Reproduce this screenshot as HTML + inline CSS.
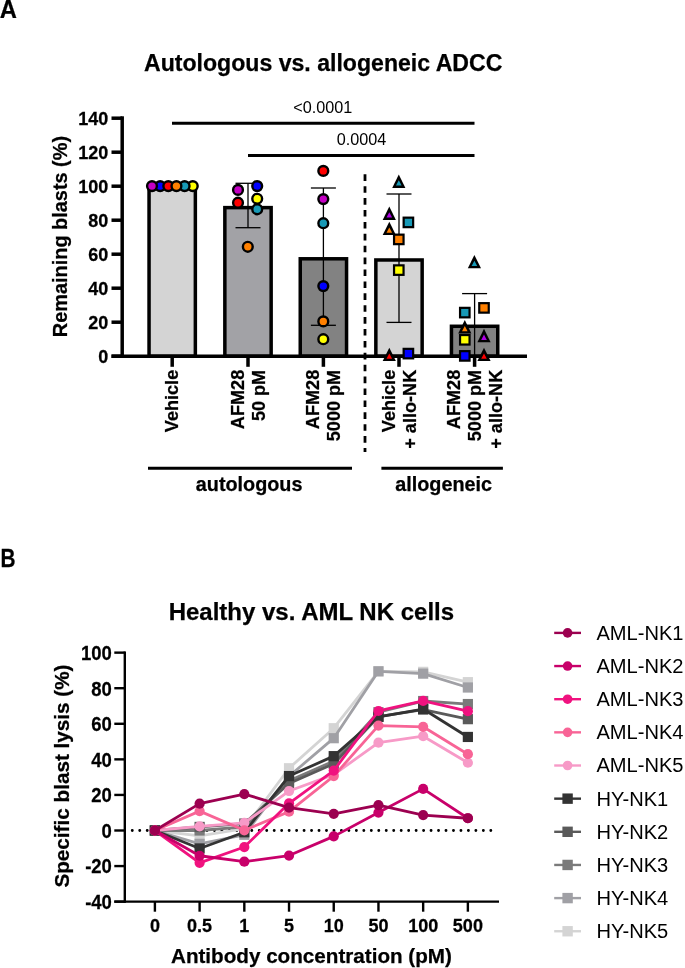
<!DOCTYPE html>
<html><head><meta charset="utf-8"><title>ADCC figure</title>
<style>
html,body{margin:0;padding:0;background:#fff;}
body{width:685px;height:968px;overflow:hidden;}
svg{display:block;font-family:"Liberation Sans", sans-serif;will-change:transform;}
text[font-weight=bold]{stroke:#000;stroke-width:0.25px;}
</style></head>
<body>
<svg width="685" height="968" viewBox="0 0 685 968" fill="#000">
<rect x="0" y="0" width="685" height="968" fill="#fff"/>
<text transform="translate(-0.3,17.6) scale(0.93,1)" font-size="25.5" font-weight="bold">A</text>
<text x="323.2" y="70.6" font-size="23.1" font-weight="bold" text-anchor="middle">Autologous vs. allogeneic ADCC</text>
<line x1="172" y1="123.3" x2="474.5" y2="123.3" stroke="#000" stroke-width="3"/>
<line x1="248" y1="155.5" x2="474.5" y2="155.5" stroke="#000" stroke-width="3"/>
<text x="322.8" y="113" font-size="16.2" text-anchor="middle">&lt;0.0001</text>
<text x="361.6" y="145.2" font-size="16.2" text-anchor="middle">0.0004</text>
<rect x="149.05" y="186.20" width="46.30" height="170.00" fill="#d4d4d4" stroke="#000" stroke-width="3.5"/>
<rect x="224.85" y="207.62" width="46.30" height="148.58" fill="#a2a2a6" stroke="#000" stroke-width="3.5"/>
<rect x="300.25" y="258.79" width="46.30" height="97.41" fill="#828282" stroke="#000" stroke-width="3.5"/>
<rect x="375.85" y="259.98" width="46.30" height="96.22" fill="#d4d4d4" stroke="#000" stroke-width="3.5"/>
<rect x="451.45" y="326.28" width="46.30" height="29.92" fill="#828282" stroke="#000" stroke-width="3.5"/>
<line x1="248.0" y1="183.3" x2="248.0" y2="227.7" stroke="#000" stroke-width="1.3"/>
<line x1="235.5" y1="183.3" x2="260.5" y2="183.3" stroke="#000" stroke-width="1.3"/>
<line x1="235.5" y1="227.7" x2="260.5" y2="227.7" stroke="#000" stroke-width="1.3"/>
<line x1="323.4" y1="188.0" x2="323.4" y2="325.3" stroke="#000" stroke-width="1.3"/>
<line x1="310.9" y1="188.0" x2="335.9" y2="188.0" stroke="#000" stroke-width="1.3"/>
<line x1="310.9" y1="325.3" x2="335.9" y2="325.3" stroke="#000" stroke-width="1.3"/>
<line x1="399.0" y1="194.0" x2="399.0" y2="322.4" stroke="#000" stroke-width="1.3"/>
<line x1="386.5" y1="194.0" x2="411.5" y2="194.0" stroke="#000" stroke-width="1.3"/>
<line x1="386.5" y1="322.4" x2="411.5" y2="322.4" stroke="#000" stroke-width="1.3"/>
<line x1="474.6" y1="293.6" x2="474.6" y2="356.2" stroke="#000" stroke-width="1.3"/>
<line x1="462.1" y1="293.6" x2="487.1" y2="293.6" stroke="#000" stroke-width="1.3"/>
<line x1="122.2" y1="116.3" x2="122.2" y2="357.95" stroke="#000" stroke-width="3.5"/>
<line x1="111.5" y1="356.2" x2="527" y2="356.2" stroke="#000" stroke-width="3.5"/>
<line x1="111.5" y1="356.20" x2="122.2" y2="356.20" stroke="#000" stroke-width="3.5"/>
<text transform="translate(108.3,363.20) scale(1,1.05)" font-size="18" font-weight="bold" text-anchor="end">0</text>
<line x1="111.5" y1="322.20" x2="122.2" y2="322.20" stroke="#000" stroke-width="3.5"/>
<text transform="translate(108.3,329.20) scale(1,1.05)" font-size="18" font-weight="bold" text-anchor="end">20</text>
<line x1="111.5" y1="288.20" x2="122.2" y2="288.20" stroke="#000" stroke-width="3.5"/>
<text transform="translate(108.3,295.20) scale(1,1.05)" font-size="18" font-weight="bold" text-anchor="end">40</text>
<line x1="111.5" y1="254.20" x2="122.2" y2="254.20" stroke="#000" stroke-width="3.5"/>
<text transform="translate(108.3,261.20) scale(1,1.05)" font-size="18" font-weight="bold" text-anchor="end">60</text>
<line x1="111.5" y1="220.20" x2="122.2" y2="220.20" stroke="#000" stroke-width="3.5"/>
<text transform="translate(108.3,227.20) scale(1,1.05)" font-size="18" font-weight="bold" text-anchor="end">80</text>
<line x1="111.5" y1="186.20" x2="122.2" y2="186.20" stroke="#000" stroke-width="3.5"/>
<text transform="translate(108.3,193.20) scale(1,1.05)" font-size="18" font-weight="bold" text-anchor="end">100</text>
<line x1="111.5" y1="152.20" x2="122.2" y2="152.20" stroke="#000" stroke-width="3.5"/>
<text transform="translate(108.3,159.20) scale(1,1.05)" font-size="18" font-weight="bold" text-anchor="end">120</text>
<line x1="111.5" y1="118.20" x2="122.2" y2="118.20" stroke="#000" stroke-width="3.5"/>
<text transform="translate(108.3,125.20) scale(1,1.05)" font-size="18" font-weight="bold" text-anchor="end">140</text>
<line x1="172.2" y1="356.2" x2="172.2" y2="366.8" stroke="#000" stroke-width="3.5"/>
<line x1="248.0" y1="356.2" x2="248.0" y2="366.8" stroke="#000" stroke-width="3.5"/>
<line x1="323.4" y1="356.2" x2="323.4" y2="366.8" stroke="#000" stroke-width="3.5"/>
<line x1="399.0" y1="356.2" x2="399.0" y2="366.8" stroke="#000" stroke-width="3.5"/>
<line x1="474.6" y1="356.2" x2="474.6" y2="366.8" stroke="#000" stroke-width="3.5"/>
<line x1="365" y1="174.3" x2="365" y2="452" stroke="#000" stroke-width="2.8" stroke-dasharray="6.6 5.3"/>
<text transform="translate(66.9,236.55) rotate(-90)" font-size="19.9" font-weight="bold" text-anchor="middle">Remaining blasts (%)</text>
<text transform="translate(178.40,369.8) rotate(-90)" font-size="18.1" font-weight="bold" text-anchor="end">Vehicle</text>
<text transform="translate(244.00,369.8) rotate(-90)" font-size="18.1" font-weight="bold" text-anchor="end">AFM28</text>
<text transform="translate(264.90,369.8) rotate(-90)" font-size="18.1" font-weight="bold" text-anchor="end">50 pM</text>
<text transform="translate(319.10,369.8) rotate(-90)" font-size="18.1" font-weight="bold" text-anchor="end">AFM28</text>
<text transform="translate(339.70,369.8) rotate(-90)" font-size="18.1" font-weight="bold" text-anchor="end">5000 pM</text>
<text transform="translate(394.90,369.8) rotate(-90)" font-size="18.1" font-weight="bold" text-anchor="end">Vehicle</text>
<text transform="translate(415.80,369.8) rotate(-90)" font-size="18.1" font-weight="bold" text-anchor="end">+ allo-NK</text>
<text transform="translate(460.20,369.8) rotate(-90)" font-size="18.1" font-weight="bold" text-anchor="end">AFM28</text>
<text transform="translate(481.20,369.8) rotate(-90)" font-size="18.1" font-weight="bold" text-anchor="end">5000 pM</text>
<text transform="translate(502.30,369.8) rotate(-90)" font-size="18.1" font-weight="bold" text-anchor="end">+ allo-NK</text>
<line x1="148" y1="468.3" x2="352" y2="468.3" stroke="#000" stroke-width="2.9"/>
<line x1="381.4" y1="468.2" x2="502.9" y2="468.2" stroke="#000" stroke-width="2.9"/>
<text x="249.1" y="490.9" font-size="19.8" font-weight="bold" text-anchor="middle">autologous</text>
<text x="443.6" y="490.9" font-size="19.8" font-weight="bold" text-anchor="middle">allogeneic</text>
<circle cx="160.15" cy="186.10" r="4.9" fill="#0000ff" stroke="#000" stroke-width="2.4"/>
<circle cx="192.75" cy="186.10" r="4.9" fill="#ffff00" stroke="#000" stroke-width="2.4"/>
<circle cx="184.60" cy="186.10" r="4.9" fill="#1799b6" stroke="#000" stroke-width="2.4"/>
<circle cx="168.30" cy="186.10" r="4.9" fill="#ff0000" stroke="#000" stroke-width="2.4"/>
<circle cx="176.45" cy="186.10" r="4.9" fill="#ff8000" stroke="#000" stroke-width="2.4"/>
<circle cx="152.00" cy="186.10" r="4.9" fill="#c400c4" stroke="#000" stroke-width="2.4"/>
<circle cx="238.00" cy="189.90" r="4.9" fill="#c400c4" stroke="#000" stroke-width="2.4"/>
<circle cx="238.00" cy="202.70" r="4.9" fill="#ff0000" stroke="#000" stroke-width="2.4"/>
<circle cx="257.20" cy="186.10" r="4.9" fill="#0000ff" stroke="#000" stroke-width="2.4"/>
<circle cx="257.20" cy="198.80" r="4.9" fill="#ffff00" stroke="#000" stroke-width="2.4"/>
<circle cx="257.20" cy="209.30" r="4.9" fill="#1799b6" stroke="#000" stroke-width="2.4"/>
<circle cx="247.80" cy="246.80" r="4.9" fill="#ff8000" stroke="#000" stroke-width="2.4"/>
<circle cx="323.30" cy="170.90" r="4.9" fill="#ff0000" stroke="#000" stroke-width="2.4"/>
<circle cx="323.30" cy="199.10" r="4.9" fill="#c400c4" stroke="#000" stroke-width="2.4"/>
<circle cx="323.30" cy="223.20" r="4.9" fill="#1799b6" stroke="#000" stroke-width="2.4"/>
<circle cx="323.30" cy="286.10" r="4.9" fill="#0000ff" stroke="#000" stroke-width="2.4"/>
<circle cx="323.30" cy="321.40" r="4.9" fill="#ff8000" stroke="#000" stroke-width="2.4"/>
<circle cx="323.30" cy="339.20" r="4.9" fill="#ffff00" stroke="#000" stroke-width="2.4"/>
<polygon points="398.80,174.50 392.20,187.90 405.40,187.90" fill="#000"/>
<polygon points="398.80,180.30 396.00,185.60 401.60,185.60" fill="#1799b6"/>
<polygon points="389.30,206.50 382.70,219.90 395.90,219.90" fill="#000"/>
<polygon points="389.30,212.30 386.50,217.60 392.10,217.60" fill="#b000e6"/>
<polygon points="389.30,221.70 382.70,235.10 395.90,235.10" fill="#000"/>
<polygon points="389.30,227.50 386.50,232.80 392.10,232.80" fill="#ff8000"/>
<rect x="403.65" y="217.65" width="9.5" height="9.5" fill="#1799b6" stroke="#000" stroke-width="2.2"/>
<rect x="394.05" y="234.65" width="9.5" height="9.5" fill="#ff8000" stroke="#000" stroke-width="2.2"/>
<rect x="394.05" y="265.35" width="9.5" height="9.5" fill="#ffff00" stroke="#000" stroke-width="2.2"/>
<polygon points="389.30,347.70 382.70,361.10 395.90,361.10" fill="#000"/>
<polygon points="389.30,353.50 386.50,358.80 392.10,358.80" fill="#ff0000"/>
<rect x="403.65" y="348.85" width="9.5" height="9.5" fill="#0000ff" stroke="#000" stroke-width="2.2"/>
<polygon points="474.40,254.90 467.80,268.30 481.00,268.30" fill="#000"/>
<polygon points="474.40,260.70 471.60,266.00 477.20,266.00" fill="#1799b6"/>
<rect x="479.25" y="303.15" width="9.5" height="9.5" fill="#ff8000" stroke="#000" stroke-width="2.2"/>
<rect x="460.05" y="307.85" width="9.5" height="9.5" fill="#1799b6" stroke="#000" stroke-width="2.2"/>
<polygon points="464.80,320.10 458.20,333.50 471.40,333.50" fill="#000"/>
<polygon points="464.80,325.90 462.00,331.20 467.60,331.20" fill="#ff8000"/>
<polygon points="484.00,328.80 477.40,342.20 490.60,342.20" fill="#000"/>
<polygon points="484.00,334.60 481.20,339.90 486.80,339.90" fill="#b000e6"/>
<rect x="460.05" y="335.05" width="9.5" height="9.5" fill="#ffff00" stroke="#000" stroke-width="2.2"/>
<rect x="460.05" y="351.15" width="9.5" height="9.5" fill="#0000ff" stroke="#000" stroke-width="2.2"/>
<polygon points="484.00,347.70 477.40,361.10 490.60,361.10" fill="#000"/>
<polygon points="484.00,353.50 481.20,358.80 486.80,358.80" fill="#ff0000"/>
<text transform="translate(0.6,566.9) scale(0.82,1)" font-size="25.4" font-weight="bold">B</text>
<text x="311.35" y="620.4" font-size="24.0" font-weight="bold" text-anchor="middle">Healthy vs. AML NK cells</text>
<line x1="124.8" y1="651.44" x2="124.8" y2="902.84" stroke="#000" stroke-width="2.4"/>
<line x1="114.3" y1="901.64" x2="499" y2="901.64" stroke="#000" stroke-width="2.4"/>
<line x1="114.3" y1="901.64" x2="124.8" y2="901.64" stroke="#000" stroke-width="2.4"/>
<text transform="translate(111.9,908.94) scale(1,1.06)" font-size="18.5" font-weight="bold" text-anchor="end">-40</text>
<line x1="114.3" y1="866.07" x2="124.8" y2="866.07" stroke="#000" stroke-width="2.4"/>
<text transform="translate(111.9,873.37) scale(1,1.06)" font-size="18.5" font-weight="bold" text-anchor="end">-20</text>
<line x1="114.3" y1="830.50" x2="124.8" y2="830.50" stroke="#000" stroke-width="2.4"/>
<text transform="translate(111.9,837.80) scale(1,1.06)" font-size="18.5" font-weight="bold" text-anchor="end">0</text>
<line x1="114.3" y1="794.93" x2="124.8" y2="794.93" stroke="#000" stroke-width="2.4"/>
<text transform="translate(111.9,802.23) scale(1,1.06)" font-size="18.5" font-weight="bold" text-anchor="end">20</text>
<line x1="114.3" y1="759.36" x2="124.8" y2="759.36" stroke="#000" stroke-width="2.4"/>
<text transform="translate(111.9,766.66) scale(1,1.06)" font-size="18.5" font-weight="bold" text-anchor="end">40</text>
<line x1="114.3" y1="723.78" x2="124.8" y2="723.78" stroke="#000" stroke-width="2.4"/>
<text transform="translate(111.9,731.08) scale(1,1.06)" font-size="18.5" font-weight="bold" text-anchor="end">60</text>
<line x1="114.3" y1="688.21" x2="124.8" y2="688.21" stroke="#000" stroke-width="2.4"/>
<text transform="translate(111.9,695.51) scale(1,1.06)" font-size="18.5" font-weight="bold" text-anchor="end">80</text>
<line x1="114.3" y1="652.64" x2="124.8" y2="652.64" stroke="#000" stroke-width="2.4"/>
<text transform="translate(111.9,659.94) scale(1,1.06)" font-size="18.5" font-weight="bold" text-anchor="end">100</text>
<line x1="154.90" y1="901.64" x2="154.90" y2="911.7" stroke="#000" stroke-width="2.4"/>
<text transform="translate(154.90,931.6) scale(1,1.07)" font-size="18" font-weight="bold" text-anchor="middle">0</text>
<line x1="199.61" y1="901.64" x2="199.61" y2="911.7" stroke="#000" stroke-width="2.4"/>
<text transform="translate(199.61,931.6) scale(1,1.07)" font-size="18" font-weight="bold" text-anchor="middle">0.5</text>
<line x1="244.32" y1="901.64" x2="244.32" y2="911.7" stroke="#000" stroke-width="2.4"/>
<text transform="translate(244.32,931.6) scale(1,1.07)" font-size="18" font-weight="bold" text-anchor="middle">1</text>
<line x1="289.03" y1="901.64" x2="289.03" y2="911.7" stroke="#000" stroke-width="2.4"/>
<text transform="translate(289.03,931.6) scale(1,1.07)" font-size="18" font-weight="bold" text-anchor="middle">5</text>
<line x1="333.74" y1="901.64" x2="333.74" y2="911.7" stroke="#000" stroke-width="2.4"/>
<text transform="translate(333.74,931.6) scale(1,1.07)" font-size="18" font-weight="bold" text-anchor="middle">10</text>
<line x1="378.45" y1="901.64" x2="378.45" y2="911.7" stroke="#000" stroke-width="2.4"/>
<text transform="translate(378.45,931.6) scale(1,1.07)" font-size="18" font-weight="bold" text-anchor="middle">50</text>
<line x1="423.16" y1="901.64" x2="423.16" y2="911.7" stroke="#000" stroke-width="2.4"/>
<text transform="translate(423.16,931.6) scale(1,1.07)" font-size="18" font-weight="bold" text-anchor="middle">100</text>
<line x1="467.87" y1="901.64" x2="467.87" y2="911.7" stroke="#000" stroke-width="2.4"/>
<text transform="translate(467.87,931.6) scale(1,1.07)" font-size="18" font-weight="bold" text-anchor="middle">500</text>
<text x="311.45" y="963" font-size="20.65" font-weight="bold" text-anchor="middle">Antibody concentration (pM)</text>
<text transform="translate(69.2,776.05) rotate(-90)" font-size="20.7" font-weight="bold" text-anchor="middle">Specific blast lysis (%)</text>
<line x1="132.27" y1="830.5" x2="491" y2="830.5" stroke="#000" stroke-width="2.9" stroke-linecap="round" stroke-dasharray="0 7.47"/>
<polyline points="154.90,830.50 199.61,835.84 244.32,828.72 289.03,768.25 333.74,728.23 378.45,671.32 423.16,671.85 467.87,682.16" fill="none" stroke="#d4d4d4" stroke-width="2.8" stroke-linejoin="round"/>
<rect x="149.80" y="825.40" width="10.2" height="10.2" fill="#d4d4d4"/>
<rect x="194.51" y="830.74" width="10.2" height="10.2" fill="#d4d4d4"/>
<rect x="239.22" y="823.62" width="10.2" height="10.2" fill="#d4d4d4"/>
<rect x="283.93" y="763.15" width="10.2" height="10.2" fill="#d4d4d4"/>
<rect x="328.64" y="723.13" width="10.2" height="10.2" fill="#d4d4d4"/>
<rect x="373.35" y="666.22" width="10.2" height="10.2" fill="#d4d4d4"/>
<rect x="418.06" y="666.75" width="10.2" height="10.2" fill="#d4d4d4"/>
<rect x="462.77" y="677.06" width="10.2" height="10.2" fill="#d4d4d4"/>
<polyline points="154.90,830.50 199.61,843.84 244.32,834.77 289.03,776.25 333.74,738.19 378.45,671.32 423.16,673.63 467.87,687.50" fill="none" stroke="#a0a0a5" stroke-width="2.8" stroke-linejoin="round"/>
<rect x="149.80" y="825.40" width="10.2" height="10.2" fill="#a0a0a5"/>
<rect x="194.51" y="838.74" width="10.2" height="10.2" fill="#a0a0a5"/>
<rect x="239.22" y="829.67" width="10.2" height="10.2" fill="#a0a0a5"/>
<rect x="283.93" y="771.15" width="10.2" height="10.2" fill="#a0a0a5"/>
<rect x="328.64" y="733.09" width="10.2" height="10.2" fill="#a0a0a5"/>
<rect x="373.35" y="666.22" width="10.2" height="10.2" fill="#a0a0a5"/>
<rect x="418.06" y="668.53" width="10.2" height="10.2" fill="#a0a0a5"/>
<rect x="462.77" y="682.40" width="10.2" height="10.2" fill="#a0a0a5"/>
<polyline points="154.90,830.50 199.61,830.50 244.32,826.94 289.03,780.70 333.74,761.13 378.45,712.22 423.16,701.02 467.87,704.04" fill="none" stroke="#7a7a7a" stroke-width="2.8" stroke-linejoin="round"/>
<rect x="149.80" y="825.40" width="10.2" height="10.2" fill="#7a7a7a"/>
<rect x="194.51" y="825.40" width="10.2" height="10.2" fill="#7a7a7a"/>
<rect x="239.22" y="821.84" width="10.2" height="10.2" fill="#7a7a7a"/>
<rect x="283.93" y="775.60" width="10.2" height="10.2" fill="#7a7a7a"/>
<rect x="328.64" y="756.03" width="10.2" height="10.2" fill="#7a7a7a"/>
<rect x="373.35" y="707.12" width="10.2" height="10.2" fill="#7a7a7a"/>
<rect x="418.06" y="695.92" width="10.2" height="10.2" fill="#7a7a7a"/>
<rect x="462.77" y="698.94" width="10.2" height="10.2" fill="#7a7a7a"/>
<polyline points="154.90,830.50 199.61,826.94 244.32,823.56 289.03,783.37 333.74,763.80 378.45,716.67 423.16,709.56 467.87,719.16" fill="none" stroke="#5a5a5a" stroke-width="2.8" stroke-linejoin="round"/>
<rect x="149.80" y="825.40" width="10.2" height="10.2" fill="#5a5a5a"/>
<rect x="194.51" y="821.84" width="10.2" height="10.2" fill="#5a5a5a"/>
<rect x="239.22" y="818.46" width="10.2" height="10.2" fill="#5a5a5a"/>
<rect x="283.93" y="778.27" width="10.2" height="10.2" fill="#5a5a5a"/>
<rect x="328.64" y="758.70" width="10.2" height="10.2" fill="#5a5a5a"/>
<rect x="373.35" y="711.57" width="10.2" height="10.2" fill="#5a5a5a"/>
<rect x="418.06" y="704.46" width="10.2" height="10.2" fill="#5a5a5a"/>
<rect x="462.77" y="714.06" width="10.2" height="10.2" fill="#5a5a5a"/>
<polyline points="154.90,830.50 199.61,848.46 244.32,832.28 289.03,776.07 333.74,756.15 378.45,716.85 423.16,709.02 467.87,736.95" fill="none" stroke="#333333" stroke-width="2.8" stroke-linejoin="round"/>
<rect x="149.80" y="825.40" width="10.2" height="10.2" fill="#333333"/>
<rect x="194.51" y="843.36" width="10.2" height="10.2" fill="#333333"/>
<rect x="239.22" y="827.18" width="10.2" height="10.2" fill="#333333"/>
<rect x="283.93" y="770.97" width="10.2" height="10.2" fill="#333333"/>
<rect x="328.64" y="751.05" width="10.2" height="10.2" fill="#333333"/>
<rect x="373.35" y="711.75" width="10.2" height="10.2" fill="#333333"/>
<rect x="418.06" y="703.92" width="10.2" height="10.2" fill="#333333"/>
<rect x="462.77" y="731.85" width="10.2" height="10.2" fill="#333333"/>
<polyline points="154.90,830.50 199.61,826.41 244.32,822.85 289.03,791.02 333.74,774.65 378.45,742.64 423.16,736.23 467.87,762.74" fill="none" stroke="#f79ac7" stroke-width="2.8" stroke-linejoin="round"/>
<circle cx="154.90" cy="830.50" r="5.1" fill="#f79ac7"/>
<circle cx="199.61" cy="826.41" r="5.1" fill="#f79ac7"/>
<circle cx="244.32" cy="822.85" r="5.1" fill="#f79ac7"/>
<circle cx="289.03" cy="791.02" r="5.1" fill="#f79ac7"/>
<circle cx="333.74" cy="774.65" r="5.1" fill="#f79ac7"/>
<circle cx="378.45" cy="742.64" r="5.1" fill="#f79ac7"/>
<circle cx="423.16" cy="736.23" r="5.1" fill="#f79ac7"/>
<circle cx="467.87" cy="762.74" r="5.1" fill="#f79ac7"/>
<polyline points="154.90,830.50 199.61,811.11 244.32,830.32 289.03,811.65 333.74,776.07 378.45,725.56 423.16,726.81 467.87,754.20" fill="none" stroke="#f86496" stroke-width="2.8" stroke-linejoin="round"/>
<circle cx="154.90" cy="830.50" r="5.1" fill="#f86496"/>
<circle cx="199.61" cy="811.11" r="5.1" fill="#f86496"/>
<circle cx="244.32" cy="830.32" r="5.1" fill="#f86496"/>
<circle cx="289.03" cy="811.65" r="5.1" fill="#f86496"/>
<circle cx="333.74" cy="776.07" r="5.1" fill="#f86496"/>
<circle cx="378.45" cy="725.56" r="5.1" fill="#f86496"/>
<circle cx="423.16" cy="726.81" r="5.1" fill="#f86496"/>
<circle cx="467.87" cy="754.20" r="5.1" fill="#f86496"/>
<polyline points="154.90,830.50 199.61,862.87 244.32,847.04 289.03,803.29 333.74,770.56 378.45,710.98 423.16,700.84 467.87,711.16" fill="none" stroke="#f0127f" stroke-width="2.8" stroke-linejoin="round"/>
<circle cx="154.90" cy="830.50" r="5.1" fill="#f0127f"/>
<circle cx="199.61" cy="862.87" r="5.1" fill="#f0127f"/>
<circle cx="244.32" cy="847.04" r="5.1" fill="#f0127f"/>
<circle cx="289.03" cy="803.29" r="5.1" fill="#f0127f"/>
<circle cx="333.74" cy="770.56" r="5.1" fill="#f0127f"/>
<circle cx="378.45" cy="710.98" r="5.1" fill="#f0127f"/>
<circle cx="423.16" cy="700.84" r="5.1" fill="#f0127f"/>
<circle cx="467.87" cy="711.16" r="5.1" fill="#f0127f"/>
<polyline points="154.90,830.50 199.61,855.76 244.32,861.63 289.03,855.58 333.74,836.37 378.45,812.54 423.16,788.88 467.87,818.23" fill="none" stroke="#c8006a" stroke-width="2.8" stroke-linejoin="round"/>
<circle cx="154.90" cy="830.50" r="5.1" fill="#c8006a"/>
<circle cx="199.61" cy="855.76" r="5.1" fill="#c8006a"/>
<circle cx="244.32" cy="861.63" r="5.1" fill="#c8006a"/>
<circle cx="289.03" cy="855.58" r="5.1" fill="#c8006a"/>
<circle cx="333.74" cy="836.37" r="5.1" fill="#c8006a"/>
<circle cx="378.45" cy="812.54" r="5.1" fill="#c8006a"/>
<circle cx="423.16" cy="788.88" r="5.1" fill="#c8006a"/>
<circle cx="467.87" cy="818.23" r="5.1" fill="#c8006a"/>
<polyline points="154.90,830.50 199.61,803.64 244.32,794.04 289.03,807.56 333.74,813.78 378.45,805.07 423.16,815.03 467.87,818.23" fill="none" stroke="#9c0050" stroke-width="2.8" stroke-linejoin="round"/>
<circle cx="154.90" cy="830.50" r="5.1" fill="#9c0050"/>
<circle cx="199.61" cy="803.64" r="5.1" fill="#9c0050"/>
<circle cx="244.32" cy="794.04" r="5.1" fill="#9c0050"/>
<circle cx="289.03" cy="807.56" r="5.1" fill="#9c0050"/>
<circle cx="333.74" cy="813.78" r="5.1" fill="#9c0050"/>
<circle cx="378.45" cy="805.07" r="5.1" fill="#9c0050"/>
<circle cx="423.16" cy="815.03" r="5.1" fill="#9c0050"/>
<circle cx="467.87" cy="818.23" r="5.1" fill="#9c0050"/>
<line x1="554.2" y1="632.90" x2="581" y2="632.90" stroke="#9c0050" stroke-width="2.4"/>
<circle cx="567.6" cy="632.90" r="4.8" fill="#9c0050"/>
<text x="596.4" y="639.80" font-size="20.1">AML-NK1</text>
<line x1="554.2" y1="666.05" x2="581" y2="666.05" stroke="#c8006a" stroke-width="2.4"/>
<circle cx="567.6" cy="666.05" r="4.8" fill="#c8006a"/>
<text x="596.4" y="672.95" font-size="20.1">AML-NK2</text>
<line x1="554.2" y1="699.20" x2="581" y2="699.20" stroke="#f0127f" stroke-width="2.4"/>
<circle cx="567.6" cy="699.20" r="4.8" fill="#f0127f"/>
<text x="596.4" y="706.10" font-size="20.1">AML-NK3</text>
<line x1="554.2" y1="732.35" x2="581" y2="732.35" stroke="#f86496" stroke-width="2.4"/>
<circle cx="567.6" cy="732.35" r="4.8" fill="#f86496"/>
<text x="596.4" y="739.25" font-size="20.1">AML-NK4</text>
<line x1="554.2" y1="765.50" x2="581" y2="765.50" stroke="#f79ac7" stroke-width="2.4"/>
<circle cx="567.6" cy="765.50" r="4.8" fill="#f79ac7"/>
<text x="596.4" y="772.40" font-size="20.1">AML-NK5</text>
<line x1="554.2" y1="798.65" x2="581" y2="798.65" stroke="#333333" stroke-width="2.4"/>
<rect x="562.40" y="793.45" width="10.4" height="10.4" fill="#333333"/>
<text x="596.4" y="805.55" font-size="20.1">HY-NK1</text>
<line x1="554.2" y1="831.80" x2="581" y2="831.80" stroke="#5a5a5a" stroke-width="2.4"/>
<rect x="562.40" y="826.60" width="10.4" height="10.4" fill="#5a5a5a"/>
<text x="596.4" y="838.70" font-size="20.1">HY-NK2</text>
<line x1="554.2" y1="864.95" x2="581" y2="864.95" stroke="#7a7a7a" stroke-width="2.4"/>
<rect x="562.40" y="859.75" width="10.4" height="10.4" fill="#7a7a7a"/>
<text x="596.4" y="871.85" font-size="20.1">HY-NK3</text>
<line x1="554.2" y1="898.10" x2="581" y2="898.10" stroke="#a0a0a5" stroke-width="2.4"/>
<rect x="562.40" y="892.90" width="10.4" height="10.4" fill="#a0a0a5"/>
<text x="596.4" y="905.00" font-size="20.1">HY-NK4</text>
<line x1="554.2" y1="931.25" x2="581" y2="931.25" stroke="#d4d4d4" stroke-width="2.4"/>
<rect x="562.40" y="926.05" width="10.4" height="10.4" fill="#d4d4d4"/>
<text x="596.4" y="938.15" font-size="20.1">HY-NK5</text>
</svg>
</body></html>
